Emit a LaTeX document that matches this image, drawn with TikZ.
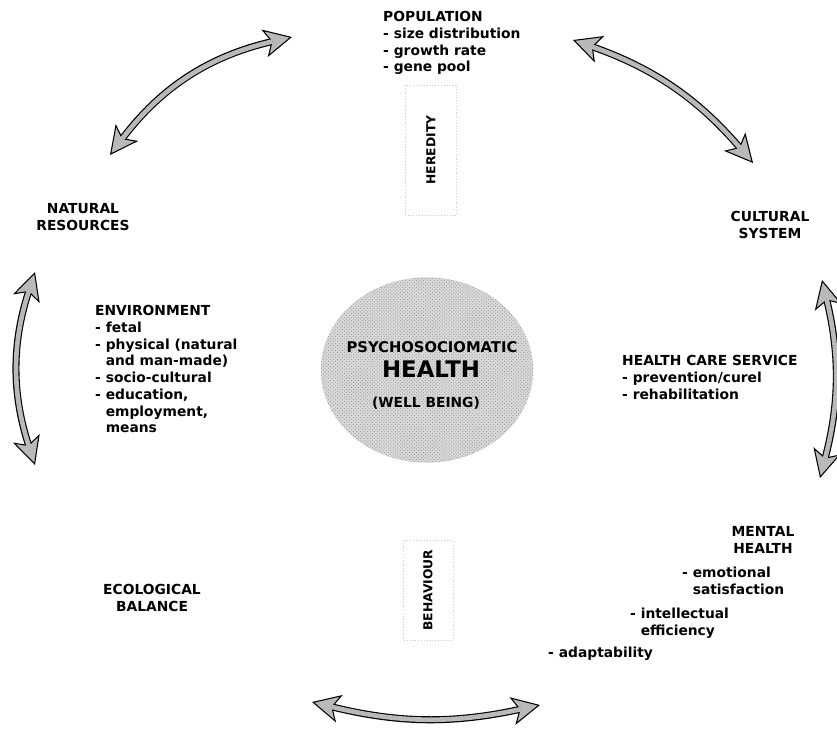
\documentclass[tikz,border=0pt]{standalone}
\usepackage{fontspec}
\setmainfont{DejaVu Sans}
\usetikzlibrary{arrows.meta,shapes.geometric,patterns}

\newcommand{\ind}{\phantom{- }}

\begin{document}
\begin{tikzpicture}[x=0.3mm,y=-0.3mm]
	\tikzstyle{every node}=[font=\fontsize{11.8}{14.3}\selectfont\bfseries, inner sep=0pt]
	\tikzstyle{twoway}=[draw=black, line width=6pt, <->,
		>={Stealth[length=24pt,width=24pt,inset=6pt,fill=gray!55,line width=0.9pt]},
		postaction={draw=gray!55, line width=4pt, -, shorten <=17pt, shorten >=17pt}]
	\tikzstyle{core}=[ellipse, minimum width=63.6mm, minimum height=55.5mm,
		fill=gray!30, draw=gray!60, densely dotted,
		postaction={pattern=crosshatch dots, pattern color=gray!80}]
	\tikzstyle{channel}=[draw=gray!40, dotted, rotate=90, font=\fontsize{10.5}{12}\selectfont\bfseries]
	
	\useasboundingbox (0,0) rectangle (837,746);
	
	% centre
	\node[core] (health) at (427,370) {};
	\node[font=\fontsize{12.6}{14}\selectfont\bfseries] (psy) at (432,347) {PSYCHOSOCIOMATIC};
	\node[font=\fontsize{19.5}{22}\selectfont\bfseries] (hlth) at (431,369) {HEALTH};
	\node (wb) at (426,403) {(WELL BEING)};
	
	\node[channel, minimum width=39mm, minimum height=15.3mm] (hered) at (431,150) {HEREDITY};
	\node[channel, minimum width=30mm, minimum height=15mm] (behav) at (428,590) {BEHAVIOUR};
	
	% outer labels
	\node[anchor=north west, align=left] (pop) at (383,11)
		{POPULATION\\- size distribution\\- growth rate\\- gene pool};
	\node[align=center] (natres) at (83,217) {NATURAL\\RESOURCES};
	\node[align=center] (cult) at (770,225) {CULTURAL\\SYSTEM};
	\node[anchor=north west, align=left] (env) at (95,305)
		{ENVIRONMENT\\- fetal\\- physical (natural\\\ind and man-made)\\- socio-cultural\\- education,\\\ind employment,\\\ind means};
	\node[anchor=north west, align=left] (care) at (622,355)
		{HEALTH CARE SERVICE\\- prevention/curel\\- rehabilitation};
	\node[align=center] (eco) at (152,598) {ECOLOGICAL\\BALANCE};
	\node[align=center] (mental) at (763,540) {MENTAL\\HEALTH};
	\node[anchor=north west, align=left] (emo) at (682,567) {- emotional\\\ind satisfaction};
	\node[anchor=north west, align=left] (intel) at (630,608) {- intellectual\\\ind efficiency};
	\node[anchor=north west] (adapt) at (548,647) {- adaptability};
	
	% arrows round the ring
	\coordinate (nr-a) at (110,155);
	\coordinate (pop-a) at (292,37);
	\coordinate (pop-b) at (573,40);
	\coordinate (cs-a) at (753,163);
	\coordinate (nr-b) at (35,272);
	\coordinate (eb-a) at (35,465);
	\coordinate (cs-b) at (822,280);
	\coordinate (mh-a) at (820,478);
	\coordinate (eb-b) at (312,702);
	\coordinate (mh-b) at (540,705);
	
	\draw[twoway] (nr-a) to[bend left=20] (pop-a);
	\draw[twoway] (pop-b) to[bend left=15] (cs-a);
	\draw[twoway] (nr-b) to[bend right=18] (eb-a);
	\draw[twoway] (cs-b) to[bend left=14] (mh-a);
	\draw[twoway] (eb-b) to[bend right=13] (mh-b);
	
\end{tikzpicture}
\end{document}
